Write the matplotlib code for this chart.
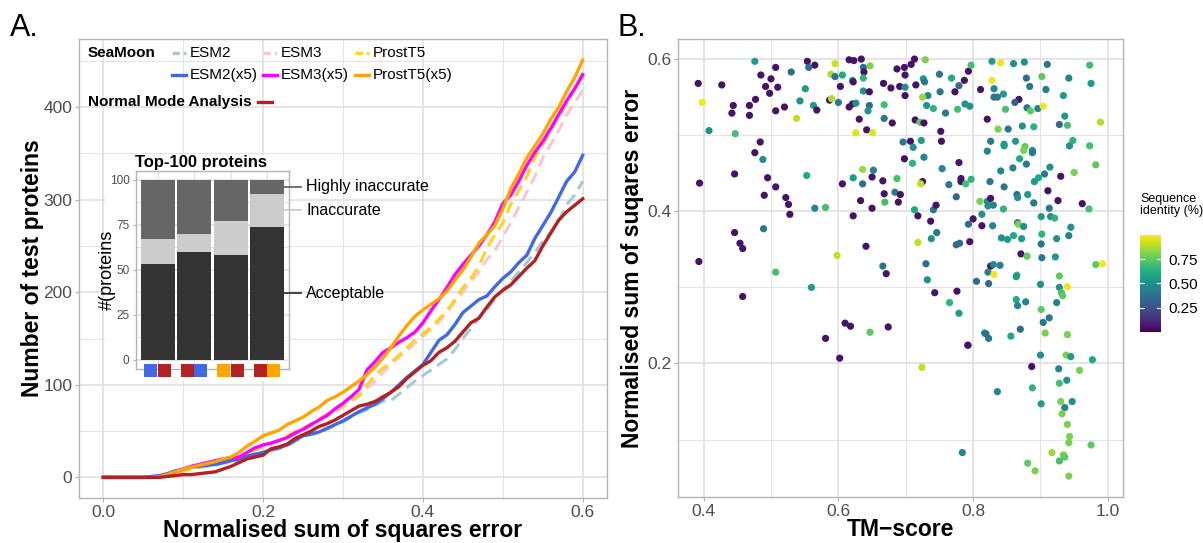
import numpy as np
import matplotlib
matplotlib.use("Agg")
import matplotlib.pyplot as plt
from matplotlib.patches import Rectangle
from matplotlib.lines import Line2D

plt.rcParams["font.family"] = ["Liberation Sans", "DejaVu Sans"]

# ---- panel A: cumulative number of test proteins vs NSSE threshold ----
nsse_grid = np.round(np.arange(0, 0.601, 0.01), 2)

esm2 = [0, 0, 0, 0, 0, 0, 0, 1, 3, 5, 8, 10, 11, 12, 13, 15, 17, 19, 22, 24,
        26, 29, 31, 34, 39, 44, 46, 48, 52, 56, 60, 65, 70, 73, 78, 82, 83, 90, 97, 104,
        110, 116, 122, 128, 138, 150, 161, 172, 181, 193, 203, 212, 222, 232, 243, 255, 265, 277, 295, 305,
        320]
esm3 = [0, 0, 0, 0, 0, 0, 0, 1, 2, 4, 7, 9, 11, 12, 14, 16, 18, 21, 25, 29,
        33, 36, 39, 43, 47, 51, 56, 61, 66, 71, 76, 82, 88, 96, 104, 113, 122, 130, 137, 145,
        152, 160, 168, 178, 190, 200, 212, 222, 235, 245, 260, 275, 292, 308, 325, 345, 360, 375, 392, 405,
        418]
prostt5 = [0, 0, 0, 0, 0, 0, 0, 1, 2, 5, 7, 9, 11, 13, 15, 17, 19, 22, 26, 30,
           34, 37, 40, 45, 49, 53, 58, 63, 68, 73, 78, 84, 88, 100, 110, 118, 124, 132, 140, 148,
           155, 162, 171, 180, 192, 205, 215, 228, 248, 262, 275, 295, 310, 325, 345, 360, 375, 390, 404, 420,
           437]
esm2_x5 = [0, 0, 0, 0, 0, 0, 1, 2, 4, 7, 9, 11, 12, 13, 14, 16, 18, 20, 23, 25,
           27, 30, 32, 35, 40, 45, 47, 49, 53, 57, 61, 66, 71, 75, 79, 85, 92, 100, 108, 115,
           122, 135, 148, 154, 165, 178, 185, 192, 196, 206, 215, 222, 232, 240, 258, 272, 286, 303, 320, 330,
           348]
esm3_x5 = [0, 0, 0, 0, 0, 0, 0, 1, 3, 6, 9, 12, 14, 16, 18, 20, 21, 22, 27, 32,
           35, 37, 40, 43, 48, 52, 57, 62, 67, 74, 80, 87, 95, 116, 125, 135, 140, 146, 151, 157,
           167, 180, 192, 205, 219, 230, 240, 250, 262, 276, 296, 305, 320, 337, 351, 363, 377, 392, 407, 420,
           435]
prostt5_x5 = [0, 0, 0, 0, 0, 0, 0, 1, 3, 6, 9, 11, 13, 15, 17, 20, 22, 27, 34, 39,
              45, 48, 51, 57, 61, 65, 71, 76, 83, 87, 92, 98, 104, 111, 119, 129, 140, 153, 164, 174,
              181, 187, 193, 201, 213, 224, 238, 253, 262, 272, 290, 312, 328, 345, 358, 371, 387, 400, 417, 432,
              451]
nma = [0, 0, 0, 0, 0, 0, 0, 0, 1, 2, 3, 3, 4, 5, 6, 9, 12, 16, 20, 22,
       24, 31, 33, 36, 42, 46, 50, 55, 58, 62, 67, 72, 77, 79, 82, 87, 92, 98, 107, 114,
       121, 126, 135, 140, 147, 157, 167, 172, 184, 195, 202, 208, 217, 226, 234, 250, 264, 278, 287, 294,
       301]

# inset: top-100 proteins, stacked categories
inset_acceptable = [53, 60, 58, 74]
inset_inaccurate = [14, 10, 19, 18]
inset_highly = [33, 30, 23, 8]
inset_pairs = [("#4169E1", "#B22222"), ("#B22222", "#4169E1"),
               ("#FFA500", "#B22222"), ("#B22222", "#FFA500")]

# ---- panel B: TM-score vs NSSE, coloured by sequence identity ----
tm_score = [
    0.476, 0.507, 0.554, 0.565, 0.556, 0.530, 0.595, 0.616, 0.623, 0.634,
    0.647, 0.637, 0.638, 0.687, 0.589, 0.595, 0.606, 0.621, 0.622, 0.637,
    0.485, 0.500, 0.392, 0.427, 0.492, 0.510, 0.498, 0.551, 0.603, 0.637,
    0.646, 0.667, 0.678, 0.691, 0.398, 0.477, 0.444, 0.468, 0.442, 0.468,
    0.507, 0.520, 0.543, 0.563, 0.568, 0.587, 0.590, 0.600, 0.616, 0.621,
    0.626, 0.646, 0.644, 0.668, 0.538, 0.631, 0.668, 0.680, 0.642, 0.626,
    0.651, 0.408, 0.447, 0.484, 0.476, 0.488, 0.446, 0.394, 0.495, 0.507,
    0.490, 0.553, 0.522, 0.526, 0.528, 0.565, 0.581, 0.636, 0.652, 0.622,
    0.636, 0.650, 0.606, 0.666, 0.687, 0.668, 0.684, 0.633, 0.669, 0.689,
    0.650, 0.622, 0.446, 0.489, 0.454, 0.458, 0.393, 0.598, 0.641, 0.666,
    0.671, 0.507, 0.560, 0.458, 0.610, 0.618, 0.647, 0.674, 0.581, 0.602,
    0.698, 0.708, 0.713, 0.729, 0.699, 0.699, 0.699, 0.715, 0.726, 0.728,
    0.750, 0.768, 0.787, 0.793, 0.797, 0.779, 0.773, 0.751, 0.733, 0.725,
    0.731, 0.741, 0.759, 0.777, 0.788, 0.795, 0.714, 0.721, 0.727, 0.752,
    0.828, 0.841, 0.860, 0.876, 0.910, 0.973, 0.828, 0.811, 0.831, 0.831,
    0.836, 0.845, 0.879, 0.884, 0.902, 0.908, 0.942, 0.975, 0.934, 0.868,
    0.862, 0.848, 0.880, 0.885, 0.896, 0.904, 0.821, 0.837, 0.852, 0.873,
    0.890, 0.936, 0.928, 0.940, 0.989, 0.696, 0.707, 0.723, 0.711, 0.753,
    0.698, 0.710, 0.727, 0.779, 0.754, 0.725, 0.722, 0.692, 0.764, 0.782,
    0.782, 0.789, 0.797, 0.775, 0.826, 0.821, 0.846, 0.846, 0.863, 0.877,
    0.875, 0.888, 0.888, 0.869, 0.879, 0.859, 0.841, 0.825, 0.846, 0.865,
    0.866, 0.881, 0.891, 0.897, 0.906, 0.914, 0.930, 0.911, 0.926, 0.890,
    0.913, 0.943, 0.948, 0.973, 0.950, 0.982, 0.962, 0.972, 0.810, 0.821,
    0.826, 0.822, 0.830, 0.845, 0.713, 0.741, 0.745, 0.718, 0.737, 0.800,
    0.793, 0.813, 0.813, 0.829, 0.866, 0.867, 0.875, 0.901, 0.915, 0.921,
    0.945, 0.746, 0.738, 0.718, 0.775, 0.780, 0.795, 0.842, 0.851, 0.860,
    0.872, 0.902, 0.924, 0.942, 0.901, 0.871, 0.880, 0.902, 0.922, 0.730,
    0.982, 0.992, 0.826, 0.830, 0.840, 0.822, 0.831, 0.865, 0.928, 0.864,
    0.732, 0.805, 0.823, 0.743, 0.776, 0.765, 0.779, 0.900, 0.928, 0.940,
    0.931, 0.933, 0.864, 0.866, 0.878, 0.924, 0.901, 0.913, 0.904, 0.870,
    0.817, 0.819, 0.823, 0.856, 0.907, 0.940, 0.793, 0.792, 0.900, 0.938,
    0.945, 0.977, 0.724, 0.887, 0.927, 0.958, 0.939, 0.928, 0.836, 0.888,
    0.901, 0.930, 0.947, 0.936, 0.932, 0.940, 0.943, 0.942, 0.975, 0.784,
    0.917, 0.934, 0.936, 0.928, 0.881, 0.892, 0.942]
nsse = [
    0.597, 0.589, 0.597, 0.592, 0.589, 0.583, 0.594, 0.599, 0.598, 0.600,
    0.591, 0.589, 0.583, 0.587, 0.580, 0.577, 0.579, 0.572, 0.570, 0.575,
    0.579, 0.574, 0.568, 0.566, 0.564, 0.563, 0.555, 0.561, 0.564, 0.558,
    0.557, 0.568, 0.562, 0.564, 0.543, 0.547, 0.539, 0.539, 0.529, 0.526,
    0.532, 0.537, 0.545, 0.539, 0.533, 0.546, 0.548, 0.543, 0.537, 0.541,
    0.542, 0.539, 0.532, 0.540, 0.522, 0.521, 0.522, 0.516, 0.507, 0.503,
    0.503, 0.506, 0.502, 0.491, 0.477, 0.468, 0.449, 0.437, 0.444, 0.432,
    0.421, 0.447, 0.418, 0.409, 0.396, 0.404, 0.405, 0.455, 0.454, 0.444,
    0.436, 0.445, 0.436, 0.440, 0.443, 0.423, 0.425, 0.414, 0.412, 0.412,
    0.404, 0.394, 0.372, 0.377, 0.358, 0.351, 0.334, 0.342, 0.354, 0.328,
    0.318, 0.320, 0.300, 0.288, 0.253, 0.249, 0.241, 0.248, 0.233, 0.207,
    0.589, 0.593, 0.600, 0.599, 0.579, 0.563, 0.552, 0.566, 0.574, 0.570,
    0.580, 0.575, 0.572, 0.584, 0.592, 0.565, 0.557, 0.557, 0.552, 0.550,
    0.539, 0.535, 0.529, 0.534, 0.541, 0.538, 0.520, 0.517, 0.516, 0.505,
    0.597, 0.595, 0.594, 0.596, 0.593, 0.592, 0.572, 0.560, 0.561, 0.550,
    0.550, 0.554, 0.575, 0.564, 0.577, 0.560, 0.575, 0.568, 0.552, 0.547,
    0.543, 0.534, 0.536, 0.532, 0.535, 0.538, 0.521, 0.508, 0.508, 0.512,
    0.511, 0.525, 0.514, 0.513, 0.517, 0.491, 0.492, 0.493, 0.484, 0.492,
    0.469, 0.463, 0.471, 0.464, 0.456, 0.439, 0.436, 0.422, 0.435, 0.443,
    0.439, 0.436, 0.442, 0.419, 0.492, 0.479, 0.488, 0.486, 0.492, 0.485,
    0.480, 0.480, 0.477, 0.469, 0.462, 0.457, 0.453, 0.439, 0.432, 0.422,
    0.418, 0.422, 0.439, 0.444, 0.449, 0.458, 0.446, 0.427, 0.414, 0.411,
    0.404, 0.486, 0.493, 0.486, 0.451, 0.461, 0.410, 0.403, 0.413, 0.413,
    0.417, 0.407, 0.408, 0.403, 0.402, 0.402, 0.408, 0.394, 0.387, 0.390,
    0.383, 0.396, 0.381, 0.381, 0.385, 0.383, 0.380, 0.393, 0.393, 0.391,
    0.379, 0.372, 0.364, 0.359, 0.356, 0.358, 0.360, 0.365, 0.363, 0.368,
    0.364, 0.370, 0.364, 0.368, 0.357, 0.344, 0.341, 0.339, 0.340, 0.331,
    0.330, 0.331, 0.328, 0.330, 0.329, 0.320, 0.317, 0.316, 0.315, 0.314,
    0.310, 0.308, 0.305, 0.293, 0.295, 0.280, 0.266, 0.304, 0.300, 0.301,
    0.293, 0.289, 0.284, 0.276, 0.281, 0.280, 0.271, 0.260, 0.254, 0.245,
    0.240, 0.239, 0.233, 0.236, 0.240, 0.238, 0.224, 0.224, 0.211, 0.211,
    0.209, 0.205, 0.195, 0.196, 0.193, 0.191, 0.178, 0.174, 0.163, 0.168,
    0.147, 0.150, 0.150, 0.142, 0.134, 0.120, 0.104, 0.096, 0.093, 0.083,
    0.083, 0.080, 0.077, 0.072, 0.069, 0.059, 0.052]
seq_identity = [
    0.55, 0.05, 0.05, 0.05, 0.35, 0.35, 0.92, 0.05, 0.05, 0.05,
    0.80, 0.35, 0.05, 0.05, 0.88, 0.40, 0.60, 0.55, 0.05, 0.65,
    0.05, 0.05, 0.05, 0.05, 0.05, 0.05, 0.05, 0.55, 0.05, 0.50,
    0.05, 0.05, 0.05, 0.05, 0.98, 0.05, 0.05, 0.05, 0.05, 0.05,
    0.05, 0.05, 0.50, 0.55, 0.05, 0.05, 0.88, 0.40, 0.05, 0.05,
    0.50, 0.35, 0.50, 0.70, 0.90, 0.05, 0.40, 0.05, 0.05, 0.95,
    0.95, 0.50, 0.70, 0.05, 0.05, 0.50, 0.05, 0.05, 0.05, 0.05,
    0.05, 0.60, 0.05, 0.05, 0.05, 0.45, 0.70, 0.85, 0.45, 0.55,
    0.35, 0.05, 0.05, 0.05, 0.70, 0.05, 0.40, 0.05, 0.70, 0.05,
    0.05, 0.05, 0.05, 0.40, 0.05, 0.05, 0.05, 0.90, 0.05, 0.40,
    0.05, 0.70, 0.55, 0.05, 0.05, 0.05, 0.75, 0.05, 0.05, 0.05,
    0.05, 0.05, 0.05, 0.80, 0.05, 0.50, 0.05, 0.05, 0.55, 0.40,
    0.40, 0.60, 0.05, 0.05, 0.70, 0.35, 0.05, 0.40, 0.45, 0.85,
    0.50, 0.65, 0.40, 0.70, 0.50, 0.50, 0.05, 0.75, 0.05, 0.05,
    0.55, 0.97, 0.50, 0.50, 0.40, 0.70, 0.98, 0.05, 0.45, 0.35,
    0.40, 0.55, 0.35, 0.40, 0.75, 0.40, 0.45, 0.55, 0.55, 0.05,
    0.30, 0.70, 0.40, 0.75, 0.45, 0.98, 0.05, 0.80, 0.40, 0.50,
    0.65, 0.55, 0.35, 0.70, 0.88, 0.40, 0.05, 0.55, 0.50, 0.05,
    0.05, 0.65, 0.45, 0.05, 0.45, 0.05, 0.90, 0.05, 0.40, 0.05,
    0.05, 0.70, 0.65, 0.35, 0.40, 0.45, 0.50, 0.55, 0.55, 0.75,
    0.80, 0.50, 0.40, 0.60, 0.40, 0.45, 0.45, 0.40, 0.40, 0.35,
    0.50, 0.55, 0.55, 0.60, 0.40, 0.50, 0.05, 0.05, 0.05, 0.40,
    0.40, 0.50, 0.65, 0.70, 0.80, 0.75, 0.05, 0.70, 0.80, 0.50,
    0.05, 0.50, 0.45, 0.65, 0.60, 0.40, 0.05, 0.05, 0.05, 0.05,
    0.35, 0.50, 0.05, 0.45, 0.35, 0.80, 0.50, 0.55, 0.50, 0.65,
    0.50, 0.40, 0.50, 0.90, 0.35, 0.35, 0.05, 0.50, 0.55, 0.60,
    0.55, 0.65, 0.50, 0.45, 0.40, 0.05, 0.75, 0.40, 0.55, 0.35,
    0.75, 0.98, 0.05, 0.45, 0.45, 0.45, 0.98, 0.65, 0.75, 0.55,
    0.50, 0.35, 0.35, 0.05, 0.05, 0.65, 0.55, 0.50, 0.50, 0.97,
    0.70, 0.75, 0.60, 0.45, 0.45, 0.45, 0.75, 0.40, 0.40, 0.35,
    0.50, 0.35, 0.40, 0.60, 0.80, 0.80, 0.70, 0.05, 0.50, 0.80,
    0.55, 0.60, 0.90, 0.05, 0.45, 0.80, 0.50, 0.70, 0.45, 0.65,
    0.55, 0.80, 0.50, 0.45, 0.80, 0.80, 0.80, 0.80, 0.75, 0.45,
    0.85, 0.80, 0.75, 0.70, 0.75, 0.80, 0.80]

# ---- helpers: pixel -> figure fraction ----
W, H = 1203, 543
def fx(x): return x / W
def fy(y): return 1 - y / H
def box(l, t, r, b): return [fx(l), fy(b), (r - l) / W, (b - t) / H]

GRID = "#DEDEDE"
BORDER = "#B3B3B3"
TICKC = "#4D4D4D"

def style(ax, size=12.5):
    ax.set_axisbelow(True)
    ax.grid(which="major", color=GRID, lw=1.1)
    ax.grid(which="minor", color=GRID, lw=0.6)
    for s in ax.spines.values():
        s.set_color(BORDER); s.set_linewidth(1.0)
    ax.tick_params(which="major", length=3, width=0.8, color=BORDER, labelcolor=TICKC, labelsize=size, pad=2)
    ax.tick_params(which="minor", length=0)

fig = plt.figure(figsize=(12.03, 5.43), dpi=100)

# ===== Panel A =====
ax = fig.add_axes(box(79.3, 39, 606.7, 498.3))
style(ax)
series = [
    (esm2, "#A6C8D6", "dashed"), (esm3, "#F7C6CF", "dashed"), (prostt5, "#FFD21F", "dashed"),
    (esm2_x5, "#4169E1", "solid"), (esm3_x5, "#FF00FF", "solid"), (prostt5_x5, "#FFA500", "solid"),
    (nma, "#B22222", "solid"),
]
for ys, col, ls in series:
    if ls == "dashed":
        ax.plot(nsse_grid, ys, color=col, lw=2.2, dashes=(4, 2.2), zorder=2)
    else:
        ax.plot(nsse_grid, ys, color=col, lw=2.4, zorder=3)
ax.set_xlim(-0.03, 0.63)
ax.set_ylim(-22.6, 473.6)
ax.set_xticks([0, 0.2, 0.4, 0.6], ["0.0", "0.2", "0.4", "0.6"])
ax.set_xticks([0.1, 0.3, 0.5], minor=True)
ax.set_yticks([0, 100, 200, 300, 400])
ax.set_yticks([50, 150, 250, 350, 450], minor=True)

# white-out behind the inset
ax.add_patch(Rectangle((fx(105), fy(381)), (290 - 105) / W, (381 - 155) / H, transform=fig.transFigure,
                       facecolor="white", edgecolor="none", zorder=1.5, clip_on=False))

fig.text(fx(343), fy(530), "Normalised sum of squares error", ha="center", va="center",
         fontsize=16.5, fontweight="bold")
fig.text(fx(33), fy(268), "Number of test proteins", ha="center", va="center", rotation=90,
         fontsize=16.5, fontweight="bold")
fig.text(fx(10), fy(28), "A.", ha="left", va="center", fontsize=22)

# legend (manual, ggplot-like layout)
fig.text(fx(88), fy(53), "SeaMoon", ha="left", va="center", fontsize=11, fontweight="bold")
fig.text(fx(88), fy(102), "Normal Mode Analysis", ha="left", va="center", fontsize=11, fontweight="bold")
leg = [
    (172, 53, "#A6C8D6", True, "ESM2"), (263, 53, "#F7C6CF", True, "ESM3"), (355, 53, "#FFD21F", True, "ProstT5"),
    (172, 75, "#4169E1", False, "ESM2(x5)"), (263, 75, "#FF00FF", False, "ESM3(x5)"),
    (355, 75, "#FFA500", False, "ProstT5(x5)"), (258, 102, "#B22222", False, None),
]
for x0, y0, col, dashed, lab in leg:
    ln = Line2D([fx(x0), fx(x0 + 14)], [fy(y0), fy(y0)], transform=fig.transFigure, color=col, lw=2.4)
    if dashed:
        ln.set_dashes((2.2, 1.2))
    fig.add_artist(ln)
    if lab:
        fig.text(fx(x0 + 18), fy(y0), lab, ha="left", va="center", fontsize=11)

# ===== Inset =====
ia = fig.add_axes(box(135.7, 170.7, 289, 369))
ia.set_facecolor("white")
style(ia, size=8.5)
ia.tick_params(which="major", length=2.5)
xpos = np.arange(1, 5)
acc = np.array(inset_acceptable)
ina = np.array(inset_inaccurate)
hig = np.array(inset_highly)
ia.bar(xpos, acc, width=0.93, color="#333333", zorder=2)
ia.bar(xpos, ina, bottom=acc, width=0.93, color="#CCCCCC", zorder=2)
ia.bar(xpos, hig, bottom=acc + ina, width=0.93, color="#666666", zorder=2)
ia.set_xlim(0.4, 4.6)
ia.set_ylim(-5, 105)
ia.set_xticks(xpos, [""] * 4)
ia.tick_params(axis="x", length=0)
ia.set_yticks([0, 25, 50, 75, 100])
ia.set_yticks([12.5, 37.5, 62.5, 87.5], minor=True)
ia.grid(axis="x", which="major", color=GRID, lw=0.8)
tr = ia.get_xaxis_transform()
for xc, (c1, c2) in zip(xpos, inset_pairs):
    ia.add_patch(Rectangle((xc - 0.36, -0.04), 0.35, 0.066, transform=tr, facecolor=c1,
                           edgecolor="none", clip_on=False, zorder=4))
    ia.add_patch(Rectangle((xc + 0.01, -0.04), 0.35, 0.066, transform=tr, facecolor=c2,
                           edgecolor="none", clip_on=False, zorder=4))
ia.set_title("Top-100 proteins", fontsize=12, fontweight="bold", pad=3, loc="left", x=-0.005)
ia.text(-0.185, 0.5, "#(proteins", transform=ia.transAxes, rotation=90, ha="center", va="center",
        fontsize=13)
last = 3
mids = [(acc[last] / 2, "Acceptable", "#333333"),
        (acc[last] + ina[last] / 2, "Inaccurate", "#CCCCCC"),
        (acc[last] + ina[last] + hig[last] / 2, "Highly inaccurate", "#666666")]
for ym, lab, col in mids:
    ia.plot([4.45, 4.92], [ym, ym], color=col, lw=1.3, clip_on=False, zorder=4)
    ia.text(5.07, ym, lab, ha="left", va="center", fontsize=11.5, clip_on=False)

# ===== Panel B =====
bx = fig.add_axes(box(678, 38.5, 1122.7, 497))
style(bx)
sc = bx.scatter(tm_score, nsse, c=seq_identity, cmap="viridis", vmin=0, vmax=1, s=27,
                edgecolors="none", zorder=3)
bx.set_xlim(0.362, 1.022)
bx.set_ylim(0.0246, 0.627)
bx.set_xticks([0.4, 0.6, 0.8, 1.0], ["0.4", "0.6", "0.8", "1.0"])
bx.set_xticks([0.5, 0.7, 0.9], minor=True)
bx.set_yticks([0.2, 0.4, 0.6], ["0.2", "0.4", "0.6"])
bx.set_yticks([0.1, 0.3, 0.5], minor=True)
fig.text(fx(900), fy(530), "TM\u2212score", ha="center", va="center", fontsize=16.5, fontweight="bold")
fig.text(fx(632), fy(268), "Normalised sum of suqares error", ha="center", va="center", rotation=90,
         fontsize=16.5, fontweight="bold")
fig.text(fx(617), fy(28), "B.", ha="left", va="center", fontsize=22)

# colour bar
cax = fig.add_axes(box(1140, 235, 1161, 331.7))
cb = fig.colorbar(sc, cax=cax, ticks=[0.25, 0.5, 0.75])
cb.outline.set_visible(False)
cax.tick_params(length=0, labelsize=11, pad=5)
cax.set_yticklabels(["0.25", "0.50", "0.75"])
ctr = cax.get_yaxis_transform()
for v in [0.25, 0.5, 0.75]:
    cax.plot([0, 0.2], [v, v], color="white", lw=0.8, transform=ctr)
    cax.plot([0.8, 1], [v, v], color="white", lw=0.8, transform=ctr)
fig.text(fx(1140), fy(193), "Sequence\nidentity (%)", ha="left", va="top", fontsize=9, linespacing=1.0)

fig.savefig("out.png", dpi=100)
